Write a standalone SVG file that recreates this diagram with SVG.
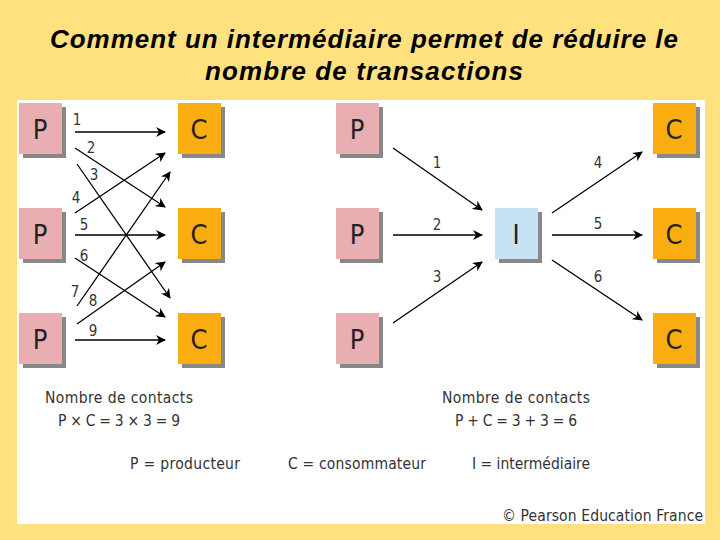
<svg xmlns="http://www.w3.org/2000/svg" width="720" height="540" viewBox="0 0 720 540">
<defs>
<marker id="ah" viewBox="0 0 10 10" refX="9" refY="5" markerWidth="10" markerHeight="10" markerUnits="userSpaceOnUse" orient="auto"><path d="M0,0 L10,5 L0,10 L3,5 Z" fill="#000"/></marker>
</defs>
<style>
.t{font-family:"Liberation Sans",Arial,sans-serif}
.sh{fill:#888}
.p{fill:#E8AEB2}.c{fill:#F9AD10}.i{fill:#C8E2F5}
.bl{font-family:"DejaVu Sans Condensed","DejaVu Sans",sans-serif;font-size:27px;fill:#222;text-anchor:middle}
.n{font-family:"DejaVu Sans Condensed","DejaVu Sans",sans-serif;font-size:15px;fill:#333;text-anchor:middle}
.lb{font-family:"DejaVu Sans Condensed","DejaVu Sans",sans-serif;font-size:15.5px;fill:#333}
#conn line{stroke:#000;stroke-width:1.3;marker-end:url(#ah)}
</style>
<rect width="720" height="540" fill="#FFE27F"/>
<rect x="17" y="100" width="688" height="424" fill="#fff"/>
<text class="t" x="364" y="48" font-size="26" font-style="italic" font-weight="bold" text-anchor="middle" textLength="628">Comment un intermédiaire permet de réduire le</text>
<text class="t" x="364" y="80" font-size="26" font-style="italic" font-weight="bold" text-anchor="middle" textLength="318">nombre de transactions</text>
<g id="nodes">
<g id="lp1"><rect class="sh" x="23" y="107" width="43" height="51"/><rect class="p" x="19" y="103" width="43" height="51"/><text class="bl" x="40" y="139">P</text></g>
<g id="lp2"><rect class="sh" x="23" y="212" width="43" height="51"/><rect class="p" x="19" y="208" width="43" height="51"/><text class="bl" x="40" y="244">P</text></g>
<g id="lp3"><rect class="sh" x="23" y="317" width="43" height="51"/><rect class="p" x="19" y="313" width="43" height="51"/><text class="bl" x="40" y="349">P</text></g>
<g id="lc1"><rect class="sh" x="182" y="107" width="43" height="51"/><rect class="c" x="178" y="103" width="43" height="51"/><text class="bl" x="199" y="139">C</text></g>
<g id="lc2"><rect class="sh" x="182" y="212" width="43" height="51"/><rect class="c" x="178" y="208" width="43" height="51"/><text class="bl" x="199" y="244">C</text></g>
<g id="lc3"><rect class="sh" x="182" y="317" width="43" height="51"/><rect class="c" x="178" y="313" width="43" height="51"/><text class="bl" x="199" y="349">C</text></g>
<g id="rp1"><rect class="sh" x="340" y="107" width="43" height="51"/><rect class="p" x="336" y="103" width="43" height="51"/><text class="bl" x="357" y="139">P</text></g>
<g id="rp2"><rect class="sh" x="340" y="212" width="43" height="51"/><rect class="p" x="336" y="208" width="43" height="51"/><text class="bl" x="357" y="244">P</text></g>
<g id="rp3"><rect class="sh" x="340" y="317" width="43" height="51"/><rect class="p" x="336" y="313" width="43" height="51"/><text class="bl" x="357" y="349">P</text></g>
<g id="ri"><rect class="sh" x="499" y="212" width="43" height="51"/><rect class="i" x="495" y="208" width="43" height="51"/><text class="bl" x="516" y="244">I</text></g>
<g id="rc1"><rect class="sh" x="657" y="107" width="43" height="51"/><rect class="c" x="653" y="103" width="43" height="51"/><text class="bl" x="674" y="139">C</text></g>
<g id="rc2"><rect class="sh" x="657" y="212" width="43" height="51"/><rect class="c" x="653" y="208" width="43" height="51"/><text class="bl" x="674" y="244">C</text></g>
<g id="rc3"><rect class="sh" x="657" y="317" width="43" height="51"/><rect class="c" x="653" y="313" width="43" height="51"/><text class="bl" x="674" y="349">C</text></g>
</g>
<g id="conn">
<line x1="75" y1="132" x2="165" y2="132"/>
<line x1="75" y1="148" x2="165" y2="207"/>
<line x1="77" y1="164" x2="170" y2="298"/>
<line x1="75" y1="213" x2="165" y2="153"/>
<line x1="75" y1="235" x2="165" y2="235"/>
<line x1="75" y1="258" x2="165" y2="317"/>
<line x1="77" y1="306" x2="170" y2="172"/>
<line x1="77" y1="324" x2="165" y2="262"/>
<line x1="75" y1="340" x2="165" y2="340"/>
<line x1="393" y1="148" x2="482" y2="210"/>
<line x1="393" y1="235" x2="482" y2="235"/>
<line x1="393" y1="323" x2="482" y2="262"/>
<line x1="552" y1="213" x2="642" y2="152"/>
<line x1="552" y1="235" x2="642" y2="235"/>
<line x1="552" y1="260" x2="642" y2="320"/>
</g>
<g id="labels">
<text class="n" x="77" y="125">1</text><text class="n" x="91" y="153">2</text><text class="n" x="94" y="180">3</text>
<text class="n" x="76" y="203">4</text><text class="n" x="84" y="230">5</text><text class="n" x="84" y="261">6</text>
<text class="n" x="75" y="297">7</text><text class="n" x="93" y="306">8</text><text class="n" x="93" y="336">9</text>
<text class="n" x="437" y="168">1</text><text class="n" x="437" y="230">2</text><text class="n" x="437" y="282">3</text>
<text class="n" x="598" y="168">4</text><text class="n" x="598" y="229">5</text><text class="n" x="598" y="282">6</text>
</g>
<text class="lb" x="45" y="403" textLength="148">Nombre de contacts</text>
<text class="lb" x="58" y="426" textLength="122">P × C = 3 × 3 = 9</text>
<text class="lb" x="442" y="403" textLength="148">Nombre de contacts</text>
<text class="lb" x="455" y="426" textLength="122">P + C = 3 + 3 = 6</text>
<text class="lb" x="130" y="469" textLength="110">P = producteur</text>
<text class="lb" x="288" y="469" textLength="138">C = consommateur</text>
<text class="lb" x="472" y="469" textLength="118">I = intermédiaire</text>
<text class="lb" x="502" y="521" font-size="19" textLength="201" fill="#444">© Pearson Education France</text>
</svg>
